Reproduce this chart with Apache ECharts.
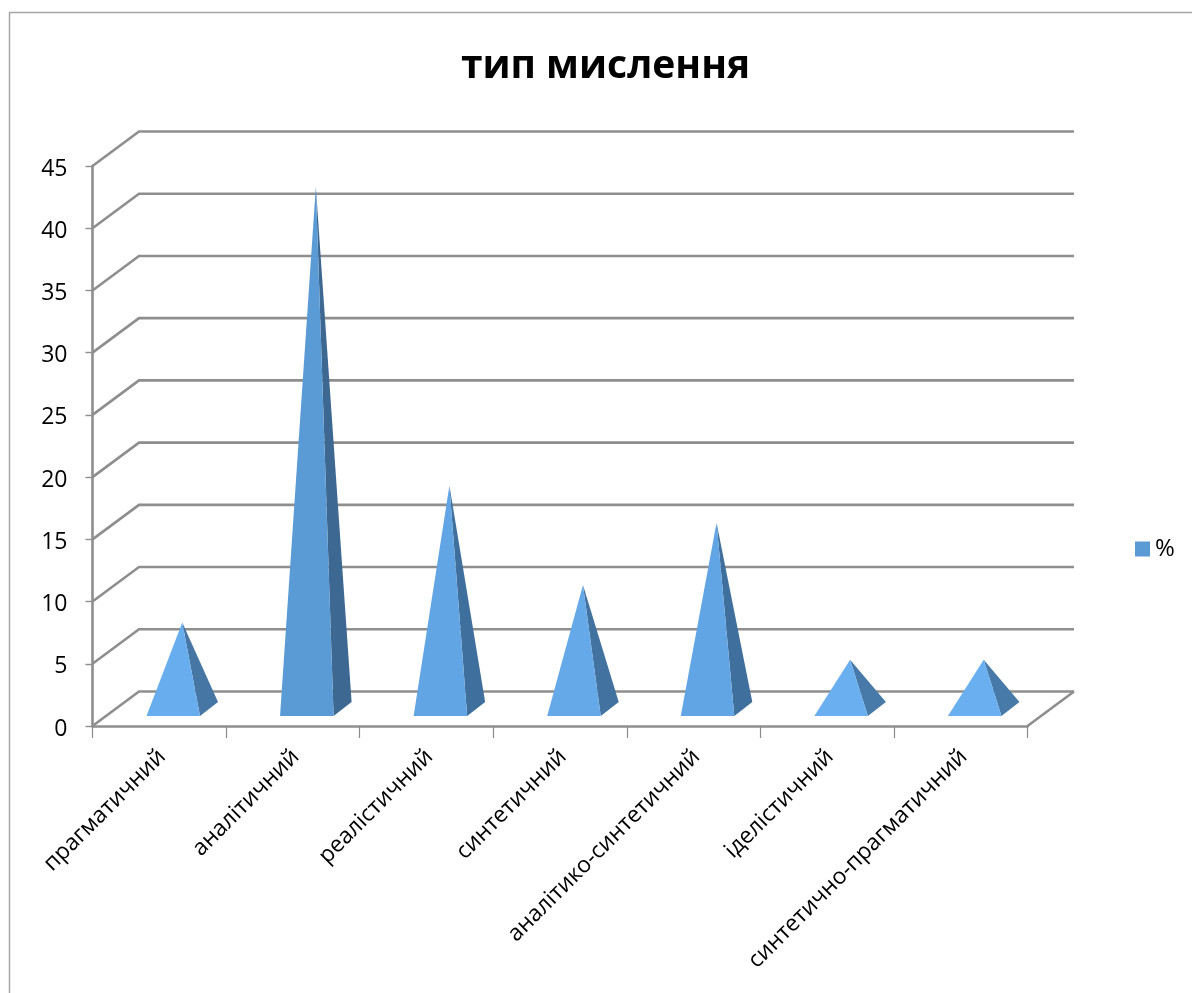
<!DOCTYPE html>
<html>
<head>
<meta charset="utf-8">
<style>html,body{margin:0;padding:0;background:#fff}#c{width:1192px;height:993px}</style>
<script src="https://cdn.jsdelivr.net/npm/echarts@6/dist/echarts.min.js"></script>
</head>
<body>
<div id="c"></div>
<script>
const categories = ['прагматичний','аналітичний','реалістичний','синтетичний','аналітико-синтетичний','іделістичний','синтетично-прагматичний'];
const percent = [7, 42, 18, 10, 15, 4, 4];
const yTicks = [0, 5, 10, 15, 20, 25, 30, 35, 40, 45];
const frontColors = ['#68adee','#5b9bd5','#62a5e4','#65a9e9','#62a5e4','#6aafef','#6aafef'];
const sideColors = ['#4676a3','#3d6892','#3f6f9c','#42729f','#3f6f9c','#477aa8','#477aa8'];

const FONT = '"Open Sans", sans-serif';
const WALL = '#8e8e8e';
const DX = 46.5, DY = -34.5;

function renderWall(params, api) {
  const v = api.value(0);
  const cs = params.coordSys;
  const y = api.coord([0, v])[1];
  const xl = cs.x, xr = cs.x + cs.width;
  const shapes = [{
    type: 'polyline',
    shape: { points: [[xl, y], [xl + DX, y + DY], [xr + DX, y + DY]] },
    style: { fill: 'none', stroke: WALL, lineWidth: 2.6 }
  }];
  if (v === 0) {
    shapes.push({
      type: 'line',
      shape: { x1: xr, y1: y, x2: xr + DX, y2: y + DY },
      style: { stroke: WALL, lineWidth: 2.6 }
    });
  }
  return { type: 'group', children: shapes };
}

function renderPyramid(params, api) {
  const i = api.value(0);
  const top = api.coord([i, api.value(1)]);
  const base = api.coord([i, 0]);
  const w = api.size([1, 0])[0];
  const fl = [base[0] - 0.096 * w, base[1] - 10];
  const fr = [base[0] + 0.305 * w, base[1] - 10];
  const br = [fr[0] + 18, fr[1] - 14];
  const apex = [base[0] + 0.172 * w, top[1] - 16.5];
  return {
    type: 'group',
    children: [
      { type: 'polygon', shape: { points: [fr, br, apex] }, style: { fill: sideColors[i] } },
      { type: 'polygon', shape: { points: [fl, fr, apex] }, style: { fill: frontColors[i] } }
    ]
  };
}

const chart = echarts.init(document.getElementById('c'), null, { renderer: 'canvas' });
chart.setOption({
  animation: false,
  backgroundColor: '#fff',
  title: {
    text: 'тип мислення',
    left: 600.5, top: 42, textAlign: 'center',
    textStyle: { fontFamily: FONT, fontWeight: 'bold', fontSize: 39, color: '#000' }
  },
  legend: {
    data: [{ name: '%', icon: 'rect' }],
    left: 1130, top: 532,
    itemWidth: 15, itemHeight: 15, itemGap: 7,
    textStyle: { fontFamily: FONT, fontSize: 24, color: '#000' }
  },
  grid: { left: 92.5, right: 164.5, top: 166, bottom: 267 },
  xAxis: {
    type: 'category',
    data: categories,
    boundaryGap: true,
    axisLine: { lineStyle: { color: WALL, width: 2.6 } },
    axisTick: { show: true, alignWithLabel: false, length: 12, lineStyle: { color: '#8a8a8a', width: 1.2 } },
    axisLabel: { interval: 0, rotate: 45, margin: 30, padding: [0, -4, 0, 0], fontFamily: FONT, fontSize: 22.7, color: '#000' },
    splitLine: { show: false }
  },
  yAxis: {
    type: 'value', min: 0, max: 45, interval: 5,
    axisLine: { show: true, lineStyle: { color: WALL, width: 2.6 } },
    axisTick: { show: true, length: 7, lineStyle: { color: WALL, width: 1.4 } },
    axisLabel: {
      margin: 25,
      formatter: '{a|{value}}',
      rich: { a: { fontFamily: FONT, fontSize: 23, color: '#000', padding: [6, 0, 0, 0] } }
    },
    splitLine: { show: false }
  },
  graphic: [{
    type: 'polyline', silent: true,
    shape: { points: [[9.5, 993], [9.5, 12.5], [1192, 12.5]] },
    style: { fill: 'none', stroke: '#a6a6a6', lineWidth: 1.5 }
  }],
  series: [
    {
      type: 'custom', name: 'walls', silent: true, z: 1,
      coordinateSystem: 'cartesian2d',
      renderItem: renderWall,
      encode: { y: 0 },
      data: yTicks.map(v => [v])
    },
    {
      type: 'custom', name: '%', z: 3,
      coordinateSystem: 'cartesian2d',
      renderItem: renderPyramid,
      itemStyle: { color: '#5b9bd5' },
      encode: { x: 0, y: 1 },
      data: percent.map((v, i) => [i, v])
    }
  ]
});
</script>
</body>
</html>
